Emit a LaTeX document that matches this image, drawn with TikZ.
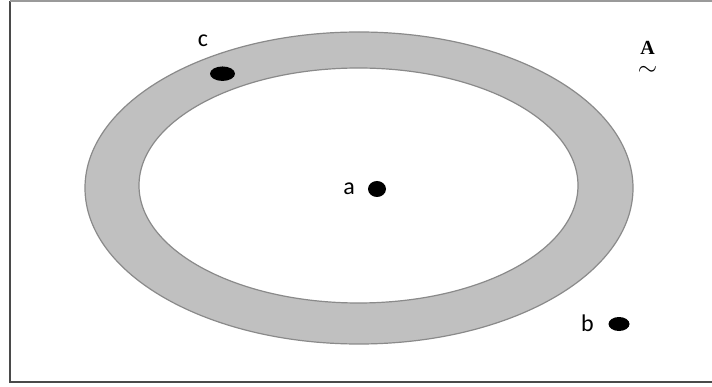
\documentclass[tikz,border=0pt]{standalone}
\usepackage{fontspec}
\setmainfont{Carlito}
\newfontfamily\seriffont{Liberation Serif}
\usetikzlibrary{shapes.geometric}
\definecolor{ringfill}{HTML}{C0C0C0}
\definecolor{ringline}{HTML}{8A8A8A}
\definecolor{frameline}{HTML}{4A4A4A}
\definecolor{topline}{HTML}{9A9A9A}
\tikzset{
  dot/.style={ellipse, fill=black, inner sep=0pt},
  lbl/.style={anchor=base, inner sep=0pt, font=\fontsize{24}{28}\selectfont},
  frame/.style={draw=frameline, line width=2pt}
}
\begin{document}
\begin{tikzpicture}[x=1pt,y=-1pt]
\useasboundingbox (0,0) rectangle (712,387);
\fill[white] (0,0) rectangle (712,387);
% frame (right side lies outside the picture)
\coordinate (f1) at (9.5,381.5);
\coordinate (f2) at (9.5,0.8);
\coordinate (f3) at (712,0.8);
\coordinate (f4) at (712,381.5);
\draw[frame] (f2) -- (f1) -- (f4);
\draw[draw=topline, line width=1.6pt] (f2) -- (f3);
% ring
\path[fill=ringfill, even odd rule, draw=ringline, line width=1.2pt]
  (359,188) ellipse [x radius=274, y radius=156]
  (358.5,185.5) ellipse [x radius=219.5, y radius=117.5];
% dots
\node[dot, minimum width=25pt, minimum height=14.5pt] (cdot) at (222.5,73.7) {};
\node[dot, minimum width=18pt, minimum height=16pt] (adot) at (377,189) {};
\node[dot, minimum width=21pt, minimum height=14pt] (bdot) at (619,324) {};
% labels
\node[lbl] (clbl) at (203,47) {c};
\node[lbl] (albl) at (349,195) {a};
\node[lbl] (blbl) at (587.5,331.5) {b};
\node[anchor=north, inner sep=0pt] (Albl) at (647.5,40.2)
  {\seriffont\fontsize{20}{20}\selectfont\begin{tabular}{@{}c@{}}\textbf{A}\\[1pt]\fontsize{24}{20}\selectfont$\sim$\end{tabular}};
\end{tikzpicture}
\end{document}
